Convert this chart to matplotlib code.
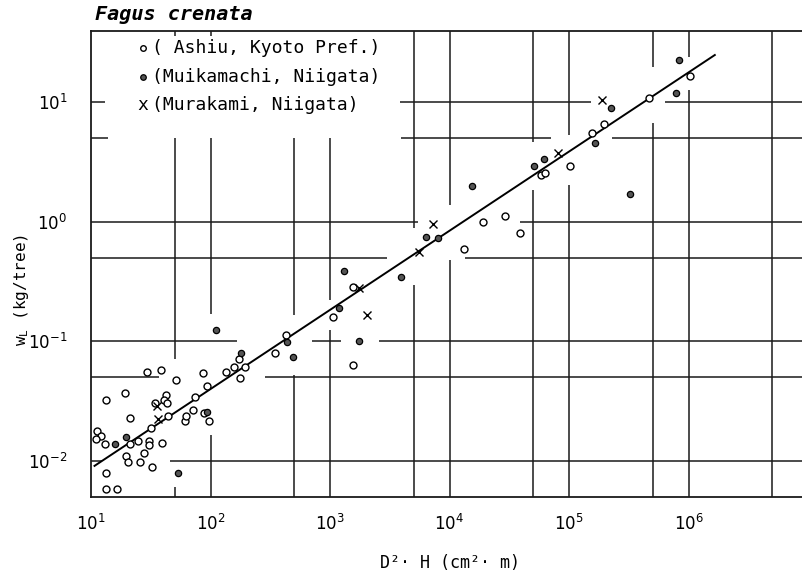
import numpy as np
import matplotlib
matplotlib.use('Agg')
import matplotlib.pyplot as plt

## Data (D2H in cm2.m, wL in kg/tree)
# Ashiu, Kyoto Pref. (open circles)
ashiu_x = [11.3, 12.2, 11.05, 13.2, 21.0, 24.5, 30.6, 30.7, 39.4, 27.8,
           19.5, 20.5, 25.6, 32.7, 13.3, 13.3, 16.6, 13.3, 19.4, 21.4,
           29.6, 38.4, 51.9, 86.9, 94.0, 74.5, 42.8, 40.6, 43.3, 34.0,
           43.7, 31.8, 61.2, 62.4, 71.4, 87.9, 97.1, 134, 156, 195,
           172, 178, 348, 430, 1060, 1557, 1551, 13350, 19250, 29130,
           38530, 58300, 63200, 102300, 156700, 196300, 462800, 1023000]
ashiu_y = [0.0178, 0.0161, 0.0154, 0.0138, 0.0138, 0.0147, 0.0147, 0.0136, 0.0140, 0.0117,
           0.0110, 0.00987, 0.00987, 0.00889, 0.00788, 0.00585, 0.00585, 0.0325, 0.0373, 0.0228,
           0.0552, 0.0575, 0.0471, 0.0548, 0.0422, 0.0340, 0.0358, 0.0323, 0.0303, 0.0303,
           0.0239, 0.0190, 0.0216, 0.0238, 0.0268, 0.0250, 0.0216, 0.0557, 0.0609, 0.0605,
           0.0717, 0.0490, 0.0800, 0.112, 0.160, 0.285, 0.0633, 0.588, 0.990, 1.122,
           0.800, 2.455, 2.552, 2.920, 5.476, 6.51, 10.86, 16.49]
# Muikamachi, Niigata (filled circles)
muika_x = [15.9, 19.6, 53.8, 93.5, 112, 181, 437, 486, 1189, 1322, 1732,
           3928, 6383, 7935, 15280, 50460, 62250, 163500, 225500, 326400,
           790600, 833000]
muika_y = [0.0139, 0.0158, 0.00788, 0.0255, 0.1238, 0.080, 0.0979, 0.0741, 0.190, 0.387, 0.1008,
           0.345, 0.749, 0.731, 2.0, 2.92, 3.32, 4.57, 8.86, 1.70,
           11.96, 22.4]
# Murakami, Niigata (crosses)
mura_x = [36.2, 35.7, 1749, 2052, 5557, 7277, 80900, 188900]
mura_y = [0.0223, 0.0289, 0.2767, 0.1662, 0.556, 0.957, 3.73, 10.3]

# regression line end points
fit_x = [10.7, 1.66e6]
fit_y = [0.0091, 24.7]

xticks = [1e1, 1e2, 1e3, 1e4, 1e5, 1e6]
xtick_labels = ['$\\mathregular{10^{%d}}$' % i for i in range(1, 7)]
yticks = [1e-2, 1e-1, 1e0, 1e1]
ytick_labels = ['$\\mathregular{10^{-2}}$', '$\\mathregular{10^{-1}}$',
                '$\\mathregular{10^{0}}$', '$\\mathregular{10^{1}}$']

XMIN, XMAX = 10, 9.08e6
YMIN, YMAX = 5.0e-3, 39.2

# graph paper lines, broken where the original leaves gaps
hgrid = {
    10:   [(XMIN, 13.1), (3855, 1.53e5), (6.35e5, XMAX)],
    5:    [(XMIN, 13.9), (3930, 7.06e4), (2.29e5, XMAX)],
    1:    [(XMIN, 5450), (3.89e4, XMAX)],
    0.5:  [(XMIN, 3000), (1.35e4, XMAX)],
    0.1:  [(XMIN, 167), (707, 1236), (2570, XMAX)],
    0.05: [(XMIN, 37.1), (286, XMAX)],
    0.01: [(XMIN, 12.3), (45.8, XMAX)],
}
vgrid = {
    50:  [(35.6, YMAX), (0.0713, 5), (YMIN, 0.00608)],
    100: [(35.6, YMAX), (0.1695, 5), (YMIN, 0.01653)],
    500: [(0.1664, 5), (YMIN, 0.0524)],
    1e3: [(0.222, 5), (YMIN, 0.1245)],
    5e3: [(0.886, YMAX), (YMIN, 0.296)],
    1e4: [(1.379, YMAX), (YMIN, 0.479)],
    5e4: [(4.64, YMAX), (YMIN, 1.84)],
    1e5: [(5.30, YMAX), (YMIN, 2.03)],
    5e5: [(19.6, YMAX), (YMIN, 6.68)],
    1e6: [(23.8, YMAX), (YMIN, 12.6)],
    5e6: [(YMIN, YMAX)],
}

mono = 'DejaVu Sans Mono'
ink = '#1a1a1a'

fig = plt.figure(figsize=(8.03, 5.78), dpi=100)
ax = fig.add_axes([91 / 803, 1 - 497 / 578, 712 / 803, 466 / 578])
ax.set_xscale('log')
ax.set_yscale('log')
ax.set_xlim(XMIN, XMAX)
ax.set_ylim(YMIN, YMAX)

for yv, segs in hgrid.items():
    for x0, x1 in segs:
        ax.hlines(yv, x0, x1, colors=ink, lw=1.1, zorder=1)
for xv, segs in vgrid.items():
    for y0, y1 in segs:
        ax.vlines(xv, y0, y1, colors=ink, lw=1.1, zorder=1)

ax.plot(fit_x, fit_y, color='black', lw=1.4, zorder=2)

ax.plot(ashiu_x, ashiu_y, 'o', ms=5, mfc='white', mec='black', mew=1.0,
        ls='none', zorder=3)
ax.plot(muika_x, muika_y, 'o', ms=4.5, mfc='#555555', mec='black', mew=0.9,
        ls='none', zorder=4)
ax.plot(mura_x, mura_y, 'x', ms=5.5, mec='black', mew=1.0, ls='none', zorder=4)

ax.set_xticks(xticks)
ax.set_xticklabels(xtick_labels)
ax.set_yticks(yticks)
ax.set_yticklabels(ytick_labels)
ax.minorticks_off()
ax.tick_params(axis='both', length=0, labelsize=12, colors='black')
ax.tick_params(axis='x', pad=12)
ax.tick_params(axis='y', pad=17)

for side in ['top', 'left', 'bottom']:
    ax.spines[side].set_linewidth(1.3)
    ax.spines[side].set_color(ink)
ax.spines['right'].set_visible(False)

# legend written as text rows, like the original
rows_y = [0.9635, 0.901, 0.841]
ax.plot([0.073], [rows_y[0]], 'o', ms=4, mfc='white', mec='black', mew=1.0,
        transform=ax.transAxes, clip_on=False)
ax.plot([0.073], [rows_y[1]], 'o', ms=4, mfc='#555555', mec='black', mew=0.9,
        transform=ax.transAxes, clip_on=False)
ax.text(0.073, rows_y[2], 'x', family=mono, fontsize=13, ha='center', va='center',
        transform=ax.transAxes)
legend_labels = ['( Ashiu, Kyoto Pref.)', '(Muikamachi, Niigata)', '(Murakami, Niigata)']
for yy, lab in zip(rows_y, legend_labels):
    ax.text(0.0855, yy, lab, family=mono, fontsize=13, ha='left', va='center',
            transform=ax.transAxes)

fig.text(95 / 803, 1 - 14 / 578, 'Fagus crenata', family=mono, fontsize=14.5,
         fontweight='bold', fontstyle='italic', ha='left', va='center')
fig.text(450 / 803, 1 - 563 / 578, 'D²· H (cm²· m)', family=mono, fontsize=12,
         ha='center', va='center')
fig.text(22 / 803, 1 - 290 / 578, 'w$_{\\mathregular{L}}$ (kg/tree)', family=mono,
         fontsize=11.5, rotation=90, ha='center', va='center')

fig.savefig('out.png', dpi=100)
